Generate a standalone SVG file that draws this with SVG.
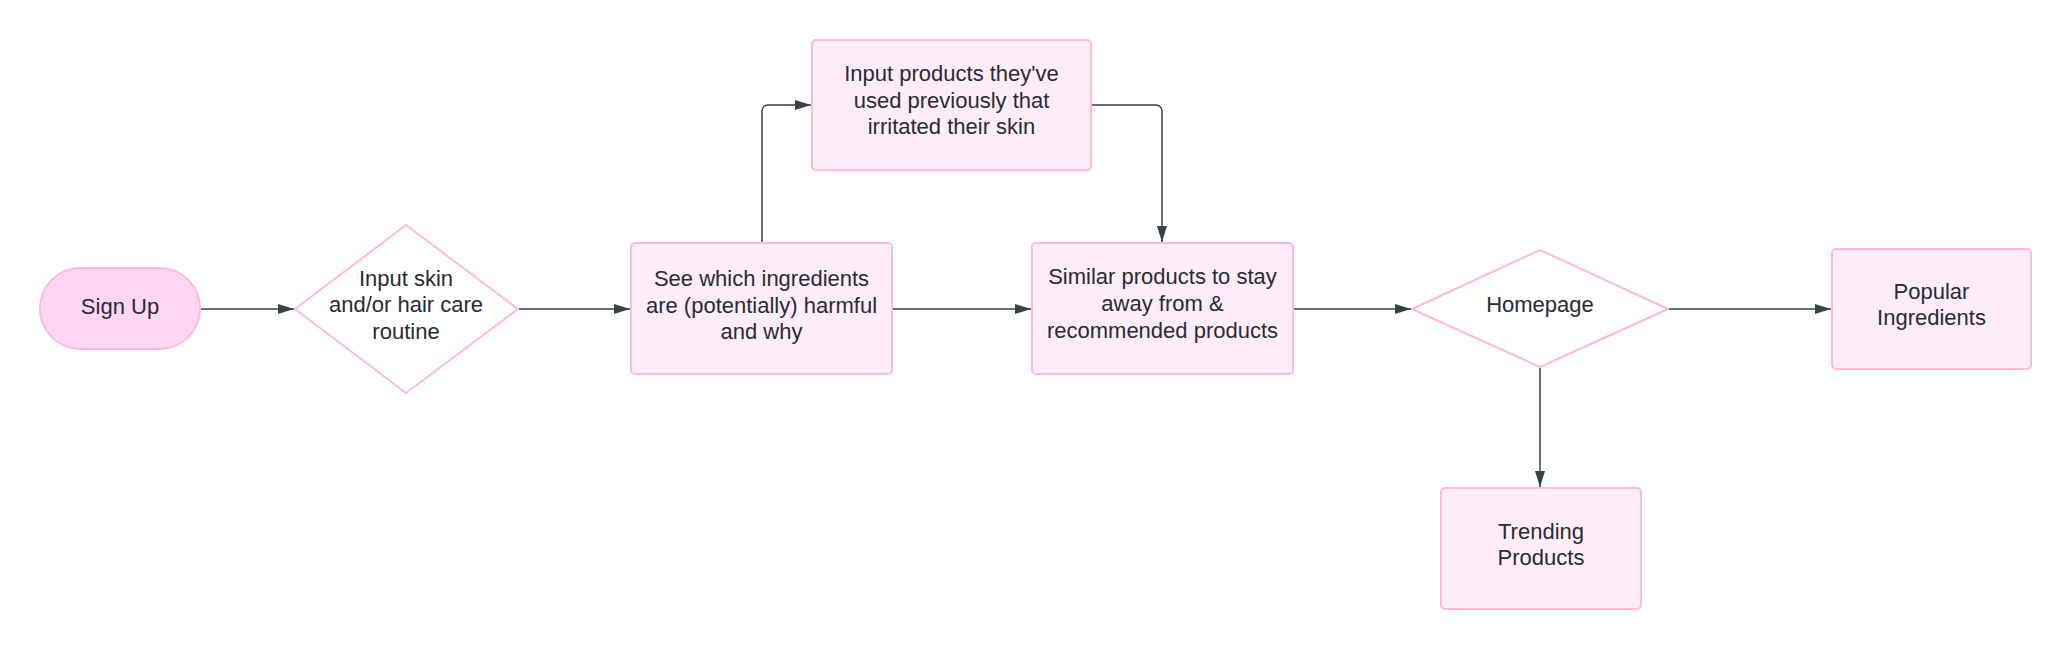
<svg xmlns="http://www.w3.org/2000/svg" width="2072" height="649" viewBox="0 0 2072 649">
<defs>
<style>
.box{fill:#ffedf9;stroke:#ffbada;stroke-width:2}
.pill{fill:#ffd6f4;stroke:#ffbada;stroke-width:2}
.dia{fill:#ffffff;stroke:#ffbada;stroke-width:2;stroke-linejoin:round}
.t{font-family:"Liberation Sans",Arial,sans-serif;font-size:22px;fill:#282c33;text-anchor:middle}
.c{fill:none;stroke:#3a414a;stroke-width:1.5}
</style>
<marker id="ah" markerUnits="userSpaceOnUse" markerWidth="16" markerHeight="10" refX="16" refY="5" orient="auto">
<path d="M0,0 L16,5 L0,10 z" fill="#3a414a"/>
</marker>
</defs>
<rect width="2072" height="649" fill="#ffffff"/>
<g id="connectors">
<path class="c" d="M201,309 H294" marker-end="url(#ah)"/>
<path class="c" d="M519,309 H630" marker-end="url(#ah)"/>
<path class="c" d="M893,309 H1031" marker-end="url(#ah)"/>
<path class="c" d="M1294,309 H1411" marker-end="url(#ah)"/>
<path class="c" d="M1669,309 H1831" marker-end="url(#ah)"/>
<path class="c" d="M1540,368 V487" marker-end="url(#ah)"/>
<path class="c" d="M762,243 V111 A6,6 0 0 1 768,105 H811" marker-end="url(#ah)"/>
<path class="c" d="M1092,105 H1156 A6,6 0 0 1 1162,111 V242" marker-end="url(#ah)"/>
</g>
<g id="signup">
<rect class="pill" x="40" y="268" width="160" height="81" rx="40.5"/>
<text class="t" x="120" y="314">Sign Up</text>
</g>
<g id="input-routine">
<polygon class="dia" points="406,225 518,309 406,393 295,309"/>
<text class="t" x="406" y="286">Input skin</text>
<text class="t" x="406" y="312">and/or hair care</text>
<text class="t" x="406" y="339">routine</text>
</g>
<g id="see-ingredients">
<rect class="box" x="631" y="243" width="261" height="131" rx="4"/>
<text class="t" x="761.5" y="286">See which ingredients</text>
<text class="t" x="761.5" y="313">are (potentially) harmful</text>
<text class="t" x="761.5" y="339">and why</text>
</g>
<g id="input-products">
<rect class="box" x="812" y="40" width="279" height="130" rx="4"/>
<text class="t" x="951.5" y="81">Input products they've</text>
<text class="t" x="951.5" y="108">used previously that</text>
<text class="t" x="951.5" y="134">irritated their skin</text>
</g>
<g id="similar-products">
<rect class="box" x="1032" y="243" width="261" height="131" rx="4"/>
<text class="t" x="1162.5" y="284">Similar products to stay</text>
<text class="t" x="1162.5" y="311">away from &amp;</text>
<text class="t" x="1162.5" y="338">recommended products</text>
</g>
<g id="homepage">
<polygon class="dia" points="1540,250 1668,309 1540,367 1412,309"/>
<text class="t" x="1540" y="312">Homepage</text>
</g>
<g id="popular-ingredients">
<rect class="box" x="1832" y="249" width="199" height="120" rx="4"/>
<text class="t" x="1931.5" y="299">Popular</text>
<text class="t" x="1931.5" y="325">Ingredients</text>
</g>
<g id="trending-products">
<rect class="box" x="1441" y="488" width="200" height="121" rx="4"/>
<text class="t" x="1541" y="539">Trending</text>
<text class="t" x="1541" y="565">Products</text>
</g>
</svg>
